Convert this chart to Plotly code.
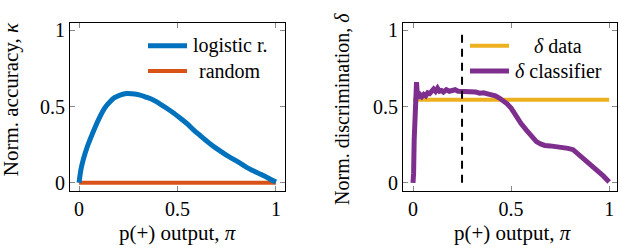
import plotly.graph_objects as go

# ---------------- data ----------------
pi_lr = [0.0, 0.01, 0.022, 0.04, 0.056, 0.08, 0.107, 0.13, 0.157, 0.18, 0.208, 0.242, 0.27, 0.31,
         0.34, 0.377, 0.41, 0.445, 0.48, 0.513, 0.55, 0.58, 0.615, 0.648, 0.68, 0.716, 0.75, 0.783,
         0.82, 0.851, 0.885, 0.919, 0.96, 1.0]
kappa_lr = [0.0, 0.09, 0.155, 0.23, 0.284, 0.36, 0.435, 0.49, 0.532, 0.558, 0.575, 0.586, 0.584, 0.575,
            0.562, 0.543, 0.518, 0.489, 0.458, 0.425, 0.386, 0.349, 0.31, 0.274, 0.241, 0.209, 0.18, 0.155,
            0.127, 0.101, 0.079, 0.058, 0.032, 0.005]
pi_rand = [0.0, 1.0]
kappa_rand = [0.0, 0.0]

pi_data = [0.0, 1.0]
delta_data = [0.545, 0.545]

pi_clf = [0.0, 0.003, 0.006, 0.009, 0.012, 0.015, 0.018, 0.021, 0.024, 0.028, 0.032, 0.038, 0.045,
          0.055, 0.065, 0.075, 0.085, 0.095, 0.105, 0.115, 0.125, 0.135, 0.145, 0.155, 0.17, 0.185,
          0.2, 0.215, 0.23, 0.245, 0.26, 0.28, 0.3, 0.32, 0.34, 0.36, 0.38, 0.4, 0.42, 0.44, 0.46,
          0.48, 0.5, 0.527, 0.55, 0.578, 0.6, 0.629, 0.65, 0.672, 0.7, 0.731, 0.76, 0.79, 0.816,
          0.84, 0.867, 0.9, 0.935, 0.97, 1.0]
delta_clf = [0.0, 0.06, 0.28, 0.42, 0.5, 0.56, 0.66, 0.6, 0.55, 0.58, 0.56, 0.575, 0.565,
             0.58, 0.57, 0.59, 0.585, 0.6, 0.615, 0.6, 0.62, 0.6, 0.605, 0.595, 0.61, 0.6,
             0.605, 0.61, 0.6, 0.6, 0.598, 0.6, 0.592, 0.595, 0.588, 0.59, 0.583, 0.58, 0.57, 0.556, 0.54,
             0.518, 0.49, 0.431, 0.39, 0.345, 0.315, 0.27, 0.255, 0.245, 0.242, 0.238, 0.232, 0.226, 0.217,
             0.19, 0.16, 0.12, 0.09, 0.045, 0.005]

threshold = 0.25
thr_y = [0.0, 0.98]

tick_vals = [0, 0.5, 1]
tick_text = ["0", "0.5", "1"]

BLUE = "#0072BD"
RED = "#D95319"
YELLOW = "#EDB120"
PURPLE = "#7E2F8E"

FONT = "Liberation Serif, Times New Roman, serif"
W, H = 620, 248


def px(x):
    return x / W


def py(y):
    return 1 - y / H


fig = go.Figure()

fig.add_trace(go.Scatter(x=pi_rand, y=kappa_rand, mode="lines", line=dict(color=RED, width=4),
                         xaxis="x", yaxis="y", showlegend=False))
fig.add_trace(go.Scatter(x=pi_lr, y=kappa_lr, mode="lines", line=dict(color=BLUE, width=5, shape="spline"),
                         xaxis="x", yaxis="y", showlegend=False))

fig.add_trace(go.Scatter(x=pi_data, y=delta_data, mode="lines", line=dict(color=YELLOW, width=4),
                         xaxis="x2", yaxis="y2", showlegend=False))
fig.add_trace(go.Scatter(x=pi_clf, y=delta_clf, mode="lines", line=dict(color=PURPLE, width=5),
                         xaxis="x2", yaxis="y2", showlegend=False))
fig.add_trace(go.Scatter(x=[threshold, threshold], y=thr_y, mode="lines",
                         line=dict(color="black", width=2, dash="8px,6px"),
                         xaxis="x2", yaxis="y2", showlegend=False))

axis_common = dict(
    showgrid=False, zeroline=False, showline=True, linecolor="black", linewidth=1,
    mirror="allticks", ticks="inside", ticklen=5, tickcolor="#888888", tickwidth=1,
    tickvals=tick_vals, ticktext=tick_text,
    tickfont=dict(family=FONT, size=20, color="black"),
)

ydom = [py(192), py(20)]
fig.update_layout(
    width=W, height=H, autosize=False,
    margin=dict(l=0, r=0, t=0, b=0),
    paper_bgcolor="white", plot_bgcolor="white",
    font=dict(family=FONT, color="black"),
    xaxis=dict(domain=[px(70), px(285)], range=[-0.046, 1.046], anchor="y", **axis_common),
    yaxis=dict(domain=ydom, range=[-0.051, 1.045], anchor="x", **axis_common),
    xaxis2=dict(domain=[px(403), px(617)], range=[-0.051, 1.04], anchor="y2", **axis_common),
    yaxis2=dict(domain=ydom, range=[-0.051, 1.045], anchor="x2", **axis_common),
)

# manual legends
legend_items = [
    (148, 187, 43, BLUE, 5, "logistic r.", 230),
    (148, 187, 69, RED, 4, "random", 230),
    (470, 509, 43, YELLOW, 4, "<i>δ</i> data", 558),
    (470, 509, 69, PURPLE, 5, "<i>δ</i> classifier", 558),
]
for x0, x1, yy, col, w, txt, tx in legend_items:
    fig.add_shape(type="line", xref="paper", yref="paper", x0=px(x0), x1=px(x1), y0=py(yy), y1=py(yy),
                  line=dict(color=col, width=w))
    fig.add_annotation(xref="paper", yref="paper", x=px(tx), y=py(yy), text=txt, showarrow=False,
                       xanchor="center", yanchor="middle", font=dict(family=FONT, size=20, color="black"))

# axis titles
fig.add_annotation(xref="paper", yref="paper", x=px(177), y=py(236), text="p(+) output, <i>π</i>",
                   showarrow=False, xanchor="center", yanchor="middle",
                   font=dict(family=FONT, size=21, color="black"))
fig.add_annotation(xref="paper", yref="paper", x=px(512), y=py(236), text="p(+) output, <i>π</i>",
                   showarrow=False, xanchor="center", yanchor="middle",
                   font=dict(family=FONT, size=21, color="black"))
fig.add_annotation(xref="paper", yref="paper", x=px(11), y=py(98), text="Norm. accuracy, <i>κ</i>",
                   showarrow=False, textangle=-90, xanchor="center", yanchor="middle",
                   font=dict(family=FONT, size=21, color="black"))
fig.add_annotation(xref="paper", yref="paper", x=px(342), y=py(108), text="Norm. discrimination, <i>δ</i>",
                   showarrow=False, textangle=-90, xanchor="center", yanchor="middle",
                   font=dict(family=FONT, size=20, color="black"))

fig.write_html("out.html", config={"responsive": False, "displayModeBar": False},
               post_script="document.body.style.margin='0';document.body.style.padding='0';")
